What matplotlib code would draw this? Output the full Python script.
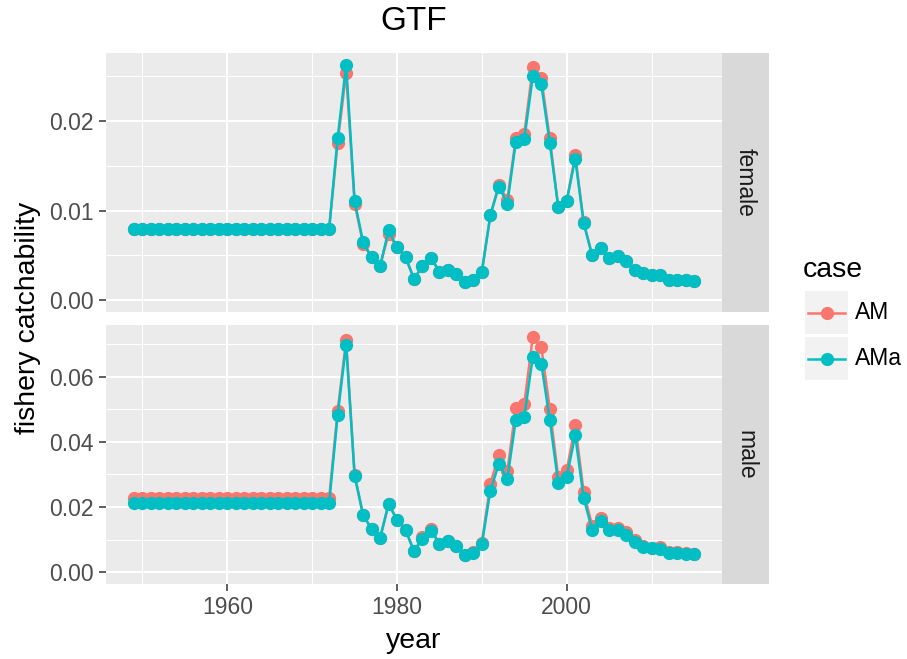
import numpy as np
import matplotlib
matplotlib.use("Agg")
import matplotlib.pyplot as plt
from matplotlib.lines import Line2D
from matplotlib.patches import Rectangle
from matplotlib.ticker import MultipleLocator

plt.rcParams['font.family'] = ['Liberation Sans', 'DejaVu Sans']

years = np.arange(1949, 2016)

# female, 1973-2015 (1949-1972 flat)
female_am_tail = [0.0176, 0.0254, 0.0108, 0.0063, 0.0048, 0.0038, 0.0074, 0.0059, 0.0048,
                  0.0024, 0.0038, 0.0047, 0.0032, 0.0034, 0.0029, 0.0020, 0.0023, 0.0032,
                  0.0095, 0.0129, 0.0112, 0.0181, 0.0186, 0.0260, 0.0248, 0.0181, 0.0104,
                  0.0111, 0.0162, 0.0087, 0.0050, 0.0058, 0.0047, 0.0049, 0.0044, 0.0034,
                  0.0030, 0.0028, 0.0028, 0.0023, 0.0023, 0.0023, 0.0021]
female_ama_tail = [0.0181, 0.0263, 0.0111, 0.0065, 0.0048, 0.0038, 0.0078, 0.0059, 0.0048,
                   0.0024, 0.0038, 0.0047, 0.0032, 0.0034, 0.0029, 0.0020, 0.0023, 0.0032,
                   0.0095, 0.0127, 0.0108, 0.0177, 0.0180, 0.0250, 0.0241, 0.0176, 0.0104,
                   0.0111, 0.0158, 0.0086, 0.0050, 0.0058, 0.0047, 0.0049, 0.0044, 0.0034,
                   0.0030, 0.0028, 0.0028, 0.0023, 0.0023, 0.0023, 0.0021]
female_am = [0.0080] * 24 + female_am_tail
female_ama = [0.0080] * 24 + female_ama_tail

male_am_tail = [0.0494, 0.0712, 0.0299, 0.0176, 0.0133, 0.0104, 0.0209, 0.0161, 0.0131,
                0.0064, 0.0109, 0.0134, 0.0087, 0.0097, 0.0079, 0.0054, 0.0061, 0.0091,
                0.0271, 0.0360, 0.0309, 0.0505, 0.0517, 0.0722, 0.0691, 0.0502, 0.0291,
                0.0312, 0.0452, 0.0245, 0.0143, 0.0165, 0.0135, 0.0135, 0.0122, 0.0099,
                0.0081, 0.0075, 0.0076, 0.0061, 0.0061, 0.0058, 0.0056]
male_ama_tail = [0.0481, 0.0698, 0.0296, 0.0175, 0.0132, 0.0104, 0.0209, 0.0161, 0.0130,
                 0.0064, 0.0102, 0.0127, 0.0086, 0.0096, 0.0079, 0.0053, 0.0060, 0.0086,
                 0.0250, 0.0332, 0.0286, 0.0468, 0.0476, 0.0661, 0.0640, 0.0468, 0.0273,
                 0.0293, 0.0420, 0.0227, 0.0130, 0.0156, 0.0130, 0.0130, 0.0115, 0.0093,
                 0.0078, 0.0073, 0.0072, 0.0060, 0.0060, 0.0057, 0.0055]
male_am = [0.0227] * 24 + male_am_tail
male_ama = [0.0212] * 24 + male_ama_tail

panels = ["female", "male"]
cases = ["AM", "AMa"]
colors = ["#F8766D", "#00BFC4"]

W, H = 907, 659
fig = plt.figure(figsize=(W / 100, H / 100), dpi=100)

def fr(x0, y0, x1, y1):
    # pixel box -> figure fraction [left, bottom, width, height]
    return [x0 / W, 1 - y1 / H, (x1 - x0) / W, (y1 - y0) / H]

boxes = [(106, 53, 722, 312), (106, 325, 722, 584)]
data = [(female_am, female_ama), (male_am, male_ama)]
yticks = [[0.0, 0.01, 0.02], [0.0, 0.02, 0.04, 0.06]]
ylabels = [["0.00", "0.01", "0.02"], ["0.00", "0.02", "0.04", "0.06"]]
yminor = [0.005, 0.01]

xlo, xhi = years.min(), years.max()
xpad = (xhi - xlo) * 0.05

axes = []
for i, (box, (am, ama)) in enumerate(zip(boxes, data)):
    ax = fig.add_axes(fr(*box))
    axes.append(ax)
    ax.set_facecolor("#EBEBEB")
    for sp in ax.spines.values():
        sp.set_visible(False)
    ax.plot(years, am, color=colors[0], lw=1.8, marker="o", ms=8.5, zorder=3)
    ax.plot(years, ama, color=colors[1], lw=1.8, marker="o", ms=8.5, zorder=4)
    ytop = max(max(am), max(ama))
    ypad = ytop * 0.05
    ax.set_ylim(-ypad, ytop + ypad)
    ax.set_xlim(xlo - xpad, xhi + xpad)
    ax.set_xticks([1960, 1980, 2000])
    ax.xaxis.set_minor_locator(MultipleLocator(20))
    ax.set_xticks([1950, 1970, 1990, 2010], minor=True)
    ax.set_yticks(yticks[i])
    ax.set_yticklabels(ylabels[i])
    ax.yaxis.set_minor_locator(MultipleLocator(yminor[i] * 2))
    ax.set_yticks([t + yminor[i] for t in yticks[i]], minor=True)
    ax.grid(True, which="major", color="white", lw=1.5)
    ax.grid(True, which="minor", color="white", lw=0.75)
    ax.set_axisbelow(True)
    ax.tick_params(which="major", length=5, width=1.1, color="#333333",
                   labelcolor="#4D4D4D", labelsize=16.5, pad=4)
    ax.tick_params(which="minor", length=0)
    if i == 0:
        ax.tick_params(axis="x", which="both", length=0, labelbottom=False)

    # facet strip
    sx = fig.add_axes(fr(722, box[1], 769, box[3]))
    sx.set_facecolor("#D9D9D9")
    sx.set_xticks([])
    sx.set_yticks([])
    for sp in sx.spines.values():
        sp.set_visible(False)
    sx.text(0.5, 0.5, panels[i], rotation=-90, ha="center", va="center",
            fontsize=16.5, color="#1A1A1A", transform=sx.transAxes)

axes[1].set_xlabel("year", fontsize=20.5, color="black", labelpad=6)

fig.text(414 / W, 1 - 22 / H, "GTF", ha="center", va="center", fontsize=24)
fig.text(28 / W, 1 - 318 / H, "fishery catchability", rotation=90,
         ha="center", va="center", fontsize=20.5)

# legend drawn in pixel coordinates
lg = fig.add_axes([0, 0, 1, 1], zorder=-1)
lg.set_xlim(0, W)
lg.set_ylim(H, 0)
lg.axis("off")
lg.text(803, 270, "case", fontsize=20.5, ha="left", va="center")
for k, (name, col) in enumerate(zip(cases, colors)):
    y0 = 291 + k * 46
    lg.add_patch(Rectangle((805, y0), 43, 43, facecolor="#F2F2F2", edgecolor="none"))
    cy = y0 + 21.5
    lg.add_line(Line2D([808, 845], [cy, cy], color=col, lw=1.8))
    lg.add_line(Line2D([826.5], [cy], color=col, marker="o", ms=8.5))
    lg.text(855, cy, name, fontsize=16.5, ha="left", va="center")

fig.savefig("out.png", dpi=100)
